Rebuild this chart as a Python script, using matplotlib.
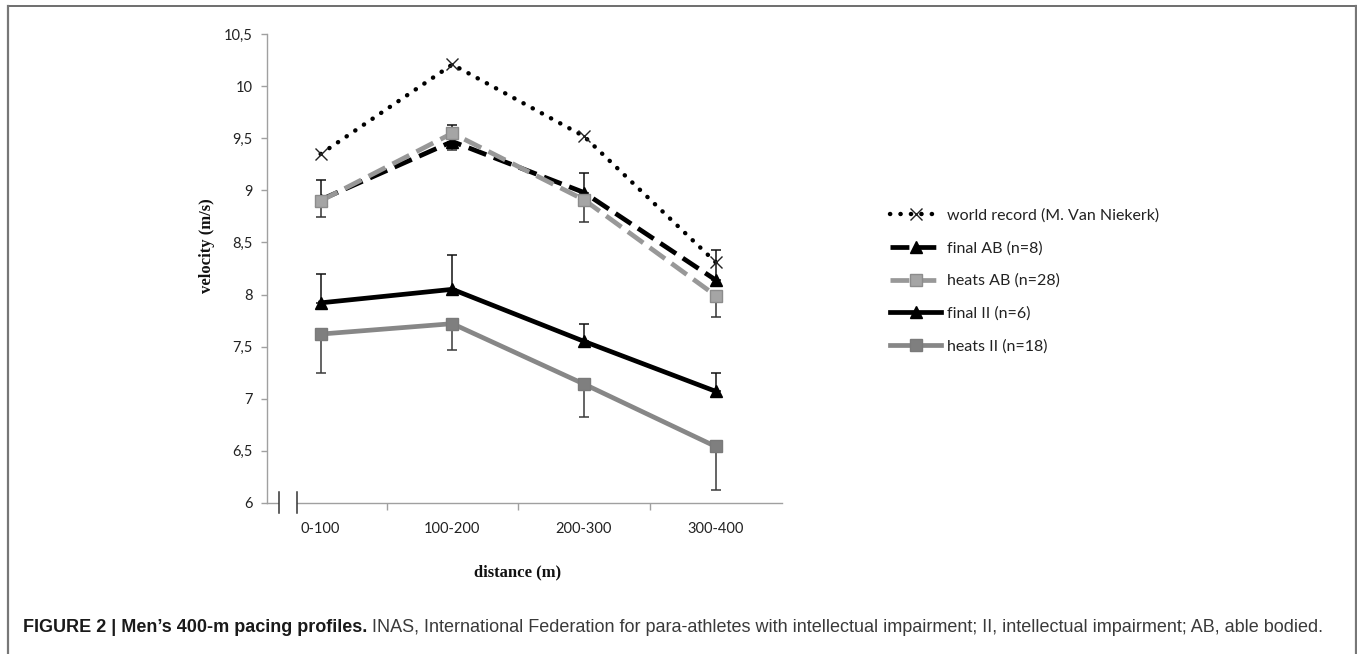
import matplotlib
matplotlib.use("Agg")
import matplotlib.pyplot as plt
import numpy as np
from matplotlib.patches import Rectangle
from matplotlib.lines import Line2D

# ---------------- data ----------------
categories = ["0-100", "100-200", "200-300", "300-400"]
world_record = [9.35, 10.21, 9.52, 8.31]
final_ab = [8.91, 9.47, 8.98, 8.14]
final_ab_sd = [0.19, 0.16, 0.19, 0.29]
heats_ab = [8.90, 9.55, 8.91, 7.99]
heats_ab_sd = [0.16, 0.16, 0.21, 0.21]
final_ii = [7.92, 8.05, 7.55, 7.07]
final_ii_sd = [0.28, 0.33, 0.17, 0.18]
heats_ii = [7.62, 7.72, 7.14, 6.54]
heats_ii_sd = [0.37, 0.25, 0.32, 0.42]
y_ticks = [6, 6.5, 7, 7.5, 8, 8.5, 9, 9.5, 10, 10.5]
y_tick_labels = ["6", "6,5", "7", "7,5", "8", "8,5", "9", "9,5", "10", "10,5"]
labels = ["world record (M. Van Niekerk)", "final AB (n=8)", "heats AB (n=28)",
          "final II (n=6)", "heats II (n=18)"]
caption_bold = "FIGURE 2 | Men\u2019s 400-m pacing profiles."
caption_rest = (" INAS, International Federation for para-athletes with intellectual "
                "impairment; II, intellectual impairment; AB, able bodied.")

W, H = 1357, 654
fig = plt.figure(figsize=(W / 100, H / 100), dpi=100)
fig.patch.set_facecolor("white")

UI = "Lato"
ax = fig.add_axes([266.7 / W, 1 - 502.7 / H, (781.5 - 266.7) / W, (502.7 - 34.3) / H])
x = np.arange(len(categories))
ax.set_xlim(-0.41, 3.5)
ax.set_ylim(6, 10.5)

zero = np.zeros(len(categories))
eb_kw = dict(fmt="none", capsize=3.5, elinewidth=1.1, capthick=1.1, zorder=1)
ax.errorbar(x, final_ab, yerr=[zero, final_ab_sd], ecolor="#111111", **eb_kw)
ax.errorbar(x, heats_ab, yerr=[heats_ab_sd, zero], ecolor="#333333", **eb_kw)
ax.errorbar(x, final_ii, yerr=[zero, final_ii_sd], ecolor="#111111", **eb_kw)
ax.errorbar(x, heats_ii, yerr=[heats_ii_sd, zero], ecolor="#3a3a3a", **eb_kw)

h_wr, = ax.plot(x, world_record, color="black", lw=3.2, linestyle=(0, (0.05, 2.3)),
                dash_capstyle="round", marker="x", ms=9, mew=1.0, mec="#222222",
                zorder=3, label=labels[0])
h_fab, = ax.plot(x, final_ab, color="black", lw=3.4, linestyle=(0, (4.0, 1.7)),
                 marker="^", ms=8, mfc="black", mec="black", zorder=3, label=labels[1])
h_hab, = ax.plot(x, heats_ab, color="#989898", lw=3.4, linestyle=(0, (4.0, 1.7)),
                 marker="s", ms=8, mfc="#a5a5a5", mec="#8c8c8c", mew=1.0, zorder=4,
                 label=labels[2])
h_fii, = ax.plot(x, final_ii, color="black", lw=3.4, linestyle="-",
                 marker="^", ms=8, mfc="black", mec="black", zorder=3, label=labels[3])
h_hii, = ax.plot(x, heats_ii, color="#878787", lw=3.4, linestyle="-",
                 marker="s", ms=8, mfc="#7f7f7f", mec="#7a7a7a", zorder=3, label=labels[4])

# axes styling
for s in ("top", "right"):
    ax.spines[s].set_visible(False)
for s in ("left", "bottom"):
    ax.spines[s].set_color("#a0a0a0")
    ax.spines[s].set_linewidth(1.0)
ax.set_yticks(y_ticks)
ax.set_yticklabels(y_tick_labels, fontfamily=UI, fontsize=10.5, color="#222222")
ax.tick_params(axis="y", length=4, width=1, color="#a0a0a0", pad=6)
ax.set_xticks(x)
ax.set_xticklabels(categories, fontfamily=UI, fontsize=10.5, color="#222222")
ax.tick_params(axis="x", which="major", length=0, pad=14)
ax.set_xticks(x[:-1] + 0.5, minor=True)
ax.tick_params(axis="x", which="minor", length=5, width=1, color="#a0a0a0")

# axis break marks on the x axis
trans = ax.get_xaxis_transform()
ax.add_patch(Rectangle((-0.317, -0.01), 0.137, 0.02, transform=trans,
                       facecolor="white", edgecolor="none", clip_on=False, zorder=5))
for bx in (-0.317, -0.18):
    ax.add_line(Line2D([bx, bx], [-0.022, 0.022], transform=trans, color="#333333",
                       lw=1.1, clip_on=False, zorder=6))

fig.text(207 / W, 1 - 246 / H, "velocity (m/s)", rotation=90, ha="center", va="center",
         fontfamily="Liberation Serif", fontweight="bold", fontsize=12, color="#111111")
fig.text(518 / W, 1 - 572 / H, "distance (m)", ha="center", va="center",
         fontfamily="Liberation Serif", fontweight="bold", fontsize=12, color="#111111")

leg = fig.legend(handles=[h_wr, h_fab, h_hab, h_fii, h_hii], labels=labels,
                 loc="center left", bbox_to_anchor=(890 / W, 1 - 281 / H),
                 frameon=False, borderpad=0, borderaxespad=0, handlelength=3.2,
                 handletextpad=0.35, labelspacing=1.15,
                 prop={"family": UI, "size": 11.5})
for t in leg.get_texts():
    t.set_color("#222222")

# outer frame
fig.add_artist(Line2D([8 / W, 1355.5 / W], [1 - 6 / H, 1 - 6 / H], transform=fig.transFigure,
                      color="#555555", lw=1.2))
fig.add_artist(Line2D([8 / W, 8 / W], [0, 1 - 6 / H], transform=fig.transFigure,
                      color="#777777", lw=1.6))
fig.add_artist(Line2D([1355.5 / W, 1355.5 / W], [0, 1 - 6 / H], transform=fig.transFigure,
                      color="#777777", lw=1.6))

# caption: bold lead-in followed by regular text at the same size, fitted to the width
cap_y = 1 - 627 / H
cap_left, cap_right = 23, 1328
t1 = fig.text(cap_left / W, cap_y, caption_bold, ha="left", va="center",
              fontfamily="Liberation Sans", fontweight="bold", fontsize=10, color="#1a1a1a")
t2 = fig.text(0.5, cap_y, caption_rest, ha="left", va="center",
              fontfamily="Liberation Sans", fontsize=10, color="#3a3a3a")
fig.canvas.draw()
r = fig.canvas.get_renderer()
total = t1.get_window_extent(r).width + t2.get_window_extent(r).width
size = 10 * (cap_right - cap_left) / total
t1.set_fontsize(size)
t2.set_fontsize(size)
fig.canvas.draw()
bb = t1.get_window_extent(r)
t2.set_x(bb.x1 / W)

fig.savefig("out.png", dpi=100, facecolor="white")
